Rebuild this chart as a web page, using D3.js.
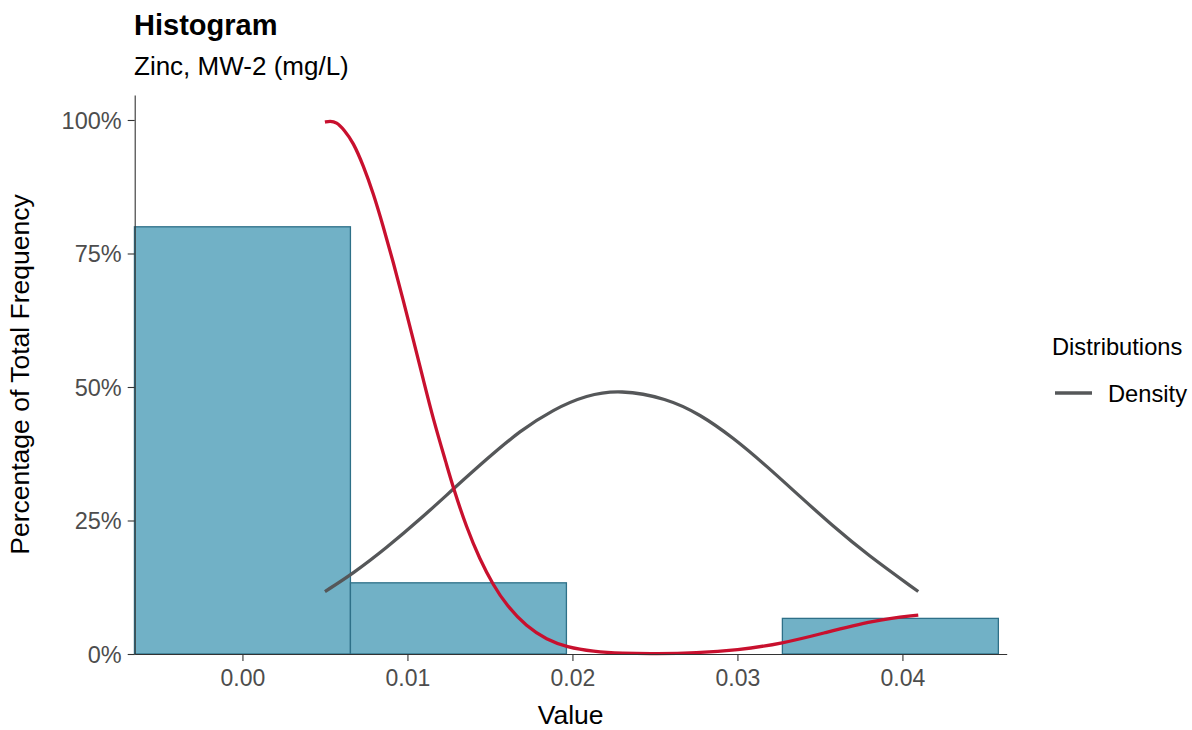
<!DOCTYPE html>
<html>
<head>
<meta charset="utf-8">
<script src="https://cdn.jsdelivr.net/npm/d3@7"></script>
<style>
  html, body { margin: 0; padding: 0; background: #fff; }
  svg { display: block; font-family: "Liberation Sans", Arial, Helvetica, sans-serif; }
</style>
</head>
<body>
<svg id="chart" width="1192" height="730"></svg>
<script>
// ---- Data ----
const binMids = [0.0, 0.01309, 0.02618, 0.03927];
const binWidth = 0.01309;
const binPercent = [80.0, 13.33, 0.0, 6.67];

const kdeX = [0.0050, 0.0053, 0.0057, 0.00615, 0.00672, 0.00732, 0.00793, 0.00853, 0.00914, 0.00975, 0.01035,
              0.01096, 0.01156, 0.01238, 0.01278, 0.01359, 0.01439, 0.01520, 0.01601, 0.01722, 0.01844,
              0.01965, 0.02126, 0.02300, 0.02510, 0.02750, 0.02995, 0.03278, 0.03520, 0.03823, 0.04096];
const kdeY = [99.6, 99.8, 99.6, 98.2, 95.8, 91.5, 86.3, 80.1, 73.4, 66.2, 58.9,
              51.4, 44.0, 35.4, 31.1, 23.6, 17.7, 12.9, 9.1, 5.1, 2.7,
              1.3, 0.45, 0.12, 0.05, 0.2, 0.7, 2.0, 3.9, 6.3, 7.3];

const normX = [0.0050, 0.00672, 0.00874, 0.01076, 0.01278, 0.01480, 0.01682, 0.01884, 0.02086, 0.02288,
               0.02571, 0.02773, 0.02975, 0.03177, 0.03379, 0.03581, 0.03783, 0.04096];
const normY = [11.7, 15.1, 19.9, 25.2, 30.9, 36.5, 41.8, 45.8, 48.5, 49.5,
               47.9, 44.9, 40.5, 35.2, 29.5, 23.9, 18.7, 11.7];

const xTicks = [0.00, 0.01, 0.02, 0.03, 0.04];
const yTicks = [0, 25, 50, 75, 100];

const titleText = "Histogram";
const subtitleText = "Zinc, MW-2 (mg/L)";
const xTitle = "Value";
const yTitle = "Percentage of Total Frequency";
const legendTitle = "Distributions";
const legendLabels = ["Density"];

// ---- Layout ----
const svg = d3.select("#chart");
const panel = { left: 134.7, right: 1006.7, top: 95, bottom: 654 };

const x = d3.scaleLinear().domain([-0.00653, 0.04632]).range([panel.left, panel.right]);
const y = d3.scaleLinear().domain([0, 104.68]).range([panel.bottom, panel.top]);

const colBarFill = "#71b1c6";
const colBarStroke = "#2e7088";
const colRed = "#c8102e";
const colGray = "#555759";
const colAxis = "#333333";
const colTickText = "#4d4d4d";

// Bars
svg.append("g").selectAll("rect")
  .data(binMids.map((m, i) => ({ m, p: binPercent[i] })).filter(d => d.p > 0))
  .join("rect")
  .attr("x", d => x(d.m - binWidth / 2))
  .attr("width", d => x(d.m + binWidth / 2) - x(d.m - binWidth / 2))
  .attr("y", d => y(d.p))
  .attr("height", d => y(0) - y(d.p))
  .attr("fill", colBarFill)
  .attr("stroke", colBarStroke)
  .attr("stroke-width", 1.3);

// Lines
const line = d3.line().x(d => x(d[0])).y(d => y(d[1])).curve(d3.curveBasis);

svg.append("path")
  .datum(normX.map((v, i) => [v, normY[i]]))
  .attr("d", line)
  .attr("fill", "none")
  .attr("stroke", colGray)
  .attr("stroke-width", 3.3);

svg.append("path")
  .datum(kdeX.map((v, i) => [v, kdeY[i]]))
  .attr("d", line)
  .attr("fill", "none")
  .attr("stroke", colRed)
  .attr("stroke-width", 3.3);

// Axes
const xAxis = svg.append("g")
  .attr("transform", `translate(0,${panel.bottom})`)
  .call(d3.axisBottom(x).tickValues(xTicks).tickFormat(d3.format(".2f")).tickSize(7).tickSizeOuter(0));
xAxis.select(".domain").attr("stroke", colAxis).attr("stroke-width", 1.1);
xAxis.selectAll(".tick line").attr("stroke", colAxis).attr("stroke-width", 1.1);
xAxis.selectAll(".tick text")
  .attr("fill", colTickText).attr("font-size", 23).attr("font-family", null)
  .attr("dy", null).attr("y", 32);

const yAxis = svg.append("g")
  .attr("transform", `translate(${panel.left},0)`)
  .call(d3.axisLeft(y).tickValues(yTicks).tickFormat(d => d + "%").tickSize(7).tickSizeOuter(0));
yAxis.select(".domain").attr("stroke", colAxis).attr("stroke-width", 1.1);
yAxis.selectAll(".tick line").attr("stroke", colAxis).attr("stroke-width", 1.1);
yAxis.selectAll(".tick text")
  .attr("fill", colTickText).attr("font-size", 23.5).attr("font-family", null)
  .attr("x", -13).attr("dy", "0.36em");

// Titles
svg.append("text").attr("x", 134).attr("y", 35)
  .attr("font-size", 29).attr("font-weight", "bold").attr("fill", "#000").text(titleText);
svg.append("text").attr("x", 134).attr("y", 75)
  .attr("font-size", 26).attr("fill", "#000").text(subtitleText);

svg.append("text")
  .attr("x", (panel.left + panel.right) / 2).attr("y", 724)
  .attr("text-anchor", "middle").attr("font-size", 26.5).attr("fill", "#000").text(xTitle);

svg.append("text")
  .attr("transform", `translate(29,${(panel.top + panel.bottom) / 2}) rotate(-90)`)
  .attr("text-anchor", "middle").attr("font-size", 26.5).attr("fill", "#000").text(yTitle);

// Legend
const lg = svg.append("g");
lg.append("text").attr("x", 1052).attr("y", 355)
  .attr("font-size", 23.7).attr("fill", "#000").text(legendTitle);
legendLabels.forEach((lab, i) => {
  const yy = 393 + i * 30;
  lg.append("line").attr("x1", 1055).attr("x2", 1092).attr("y1", yy).attr("y2", yy)
    .attr("stroke", colGray).attr("stroke-width", 3.3);
  lg.append("text").attr("x", 1108).attr("y", yy + 8.5)
    .attr("font-size", 23.7).attr("fill", "#000").text(lab);
});
</script>
</body>
</html>
